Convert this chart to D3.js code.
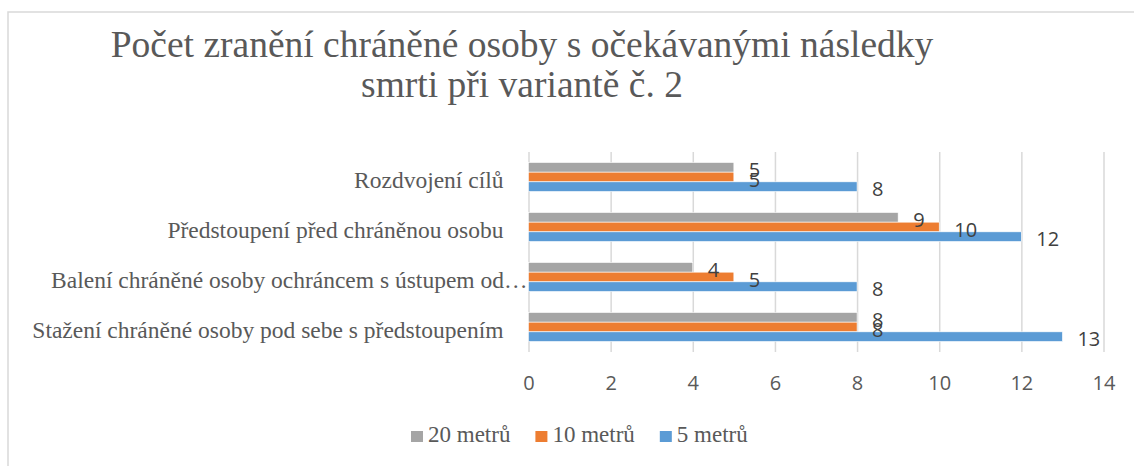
<!DOCTYPE html>
<html>
<head>
<meta charset="utf-8">
<script src="https://cdn.jsdelivr.net/npm/d3@7"></script>
<style>
  body { margin: 0; background: #fff; }
</style>
</head>
<body>
<div class="visHolder"></div>
<script>
const categories = [
    "Rozdvojení cílů",
    "Předstoupení před chráněnou osobu",
    "Balení chráněné osoby ochráncem s ústupem od…",
    "Stažení chráněné osoby pod sebe s předstoupením"
];
const seriesNames = ["20 metrů", "10 metrů", "5 metrů"];
const values20 = [5, 9, 4, 8];
const values10 = [5, 10, 5, 8];
const values5 = [8, 12, 8, 13];
const xTicks = [0, 2, 4, 6, 8, 10, 12, 14];
const titleLines = ["Počet zranění chráněné osoby s očekávanými následky", "smrti při variantě č. 2"];

const colors = ["#A5A5A5", "#ED7D31", "#5B9BD5"];
const seriesValues = [values20, values10, values5];

const w = 1134;
const h = 466;
const plot = { left: 528.5, right: 1103.5, top: 152, bottom: 352 };
const serif = "'Liberation Serif', 'Times New Roman', serif";
const sans = "'Open Sans', 'Noto Sans', sans-serif";

const svg = d3.select(".visHolder")
    .append("svg")
    .attr("width", w)
    .attr("height", h);

// chart frame (runs off right and bottom edge)
svg.append("rect")
    .attr("x", 8)
    .attr("y", 12)
    .attr("width", 1200)
    .attr("height", 600)
    .attr("fill", "none")
    .attr("stroke", "#D9D9D9")
    .attr("stroke-width", 1.5);

svg.append("text")
    .attr("id", "title")
    .attr("text-anchor", "middle")
    .style("font-family", serif)
    .style("font-size", "37.5px")
    .attr("fill", "#595959")
    .selectAll("tspan")
    .data(titleLines)
    .enter()
    .append("tspan")
    .attr("x", 522)
    .attr("y", (d, i) => 57 + i * 40)
    .text(d => d);

const xScale = d3.scaleLinear()
    .domain([0, 14])
    .range([plot.left, plot.right]);

const yScale = d3.scaleBand()
    .domain(categories)
    .range([plot.top, plot.bottom]);

const inner = d3.scaleBand()
    .domain(seriesNames)
    .range([10.5, 39.5]);

// axis with gridlines
const xAxis = d3.axisBottom(xScale)
    .tickValues(xTicks)
    .tickSize(-(plot.bottom - plot.top))
    .tickPadding(24);

const axisG = svg.append("g")
    .attr("id", "x-axis")
    .attr("transform", `translate(0, ${plot.bottom})`)
    .call(xAxis);

axisG.select(".domain").remove();
axisG.selectAll(".tick line")
    .attr("stroke", "#D9D9D9")
    .attr("stroke-width", 1.5);
axisG.selectAll(".tick text")
    .attr("fill", "#595959")
    .style("font-family", sans)
    .style("font-size", "20px");

// category labels
svg.selectAll(".cat")
    .data(categories)
    .enter()
    .append("text")
    .attr("class", "cat")
    .attr("x", d => d.endsWith("…") ? xScale(0) - 1 : xScale(0) - 25)
    .attr("y", d => yScale(d) + yScale.bandwidth() / 2 + 3)
    .attr("text-anchor", "end")
    .attr("dominant-baseline", "central")
    .attr("fill", "#595959")
    .style("font-family", serif)
    .style("font-size", "23.5px")
    .text(d => d);

const rowsFor = si => categories.map((c, i) => ({ cat: c, value: seriesValues[si][i], name: seriesNames[si] }));

// bars
seriesNames.forEach((name, si) => {
    svg.selectAll(".bar-" + si)
        .data(rowsFor(si))
        .enter()
        .append("rect")
        .attr("class", "bar-" + si)
        .attr("x", xScale(0))
        .attr("y", d => yScale(d.cat) + inner(name))
        .attr("width", d => xScale(d.value) - xScale(0))
        .attr("height", inner.bandwidth())
        .attr("fill", colors[si])
        .attr("stroke", "#fff")
        .attr("stroke-width", 0.6);
});

// data labels, drawn after all bars
seriesNames.forEach((name, si) => {
    svg.selectAll(".lbl-" + si)
        .data(rowsFor(si))
        .enter()
        .append("text")
        .attr("class", "lbl-" + si)
        .attr("x", d => xScale(d.value) + 15)
        .attr("y", d => yScale(d.cat) + inner(name) + inner.bandwidth() / 2 + 2)
        .attr("dominant-baseline", "central")
        .attr("fill", "#404040")
        .style("font-family", sans)
        .style("font-size", "20px")
        .text(d => d.value);
});

// legend
const legend = svg.append("g").attr("id", "legend");
let lx = 411;
seriesNames.forEach((name, si) => {
    legend.append("rect")
        .attr("x", lx)
        .attr("y", 431)
        .attr("width", 12)
        .attr("height", 11)
        .attr("fill", colors[si]);
    const t = legend.append("text")
        .attr("x", lx + 17)
        .attr("y", 442)
        .attr("fill", "#595959")
        .style("font-family", serif)
        .style("font-size", "23px")
        .text(name);
    lx += 17 + t.node().getComputedTextLength() + 25;
});
</script>
</body>
</html>
